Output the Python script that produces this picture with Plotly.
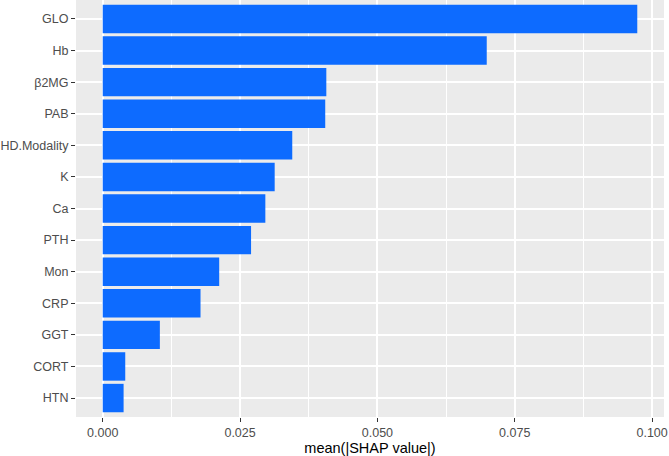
import plotly.graph_objects as go

features = ["GLO", "Hb", "β2MG", "PAB", "HD.Modality", "K", "Ca", "PTH",
            "Mon", "CRP", "GGT", "CORT", "HTN"]
importance = [0.0973, 0.0699, 0.0407, 0.0405, 0.0345, 0.0313, 0.0296, 0.0270,
              0.0212, 0.0178, 0.0104, 0.0041, 0.0038]
x_ticks = [0.0, 0.025, 0.05, 0.075, 0.1]
x_tick_labels = ["0.000", "0.025", "0.050", "0.075", "0.100"]

font_family = "Liberation Sans, Arial, sans-serif"
xmax = max(importance)

fig = go.Figure(go.Bar(
    x=importance, y=features, orientation="h",
    marker=dict(color="#0D6BFF", line=dict(width=0)),
))

fig.update_layout(
    width=669, height=456,
    margin=dict(l=76, r=5, t=0, b=39),
    paper_bgcolor="white", plot_bgcolor="#EBEBEB",
    bargap=0.1, showlegend=False,
    font=dict(family=font_family, color="#4D4D4D", size=12.5),
)
fig.update_xaxes(
    range=[-0.05 * xmax, 1.05 * xmax],
    tickvals=x_ticks, ticktext=x_tick_labels,
    ticks="outside", ticklen=4, tickwidth=1, tickcolor="#333333",
    tickfont=dict(size=12.5, color="#4D4D4D"),
    showgrid=True, gridcolor="white", gridwidth=1.6,
    minor=dict(dtick=0.0125, tick0=0, showgrid=True, gridcolor="white",
               gridwidth=0.8, ticks=""),
    zeroline=False, showline=False,
    title=dict(text="mean(|SHAP value|)", standoff=3,
               font=dict(size=14.5, color="black")),
)
fig.update_yaxes(
    range=[len(features) - 0.4, -0.6],
    ticks="outside", ticklen=4, tickwidth=1, tickcolor="#333333",
    tickfont=dict(size=12.5, color="#4D4D4D"),
    showgrid=True, gridcolor="white", gridwidth=1.6,
    zeroline=False, showline=False,
)

fig.write_html("out.html")
